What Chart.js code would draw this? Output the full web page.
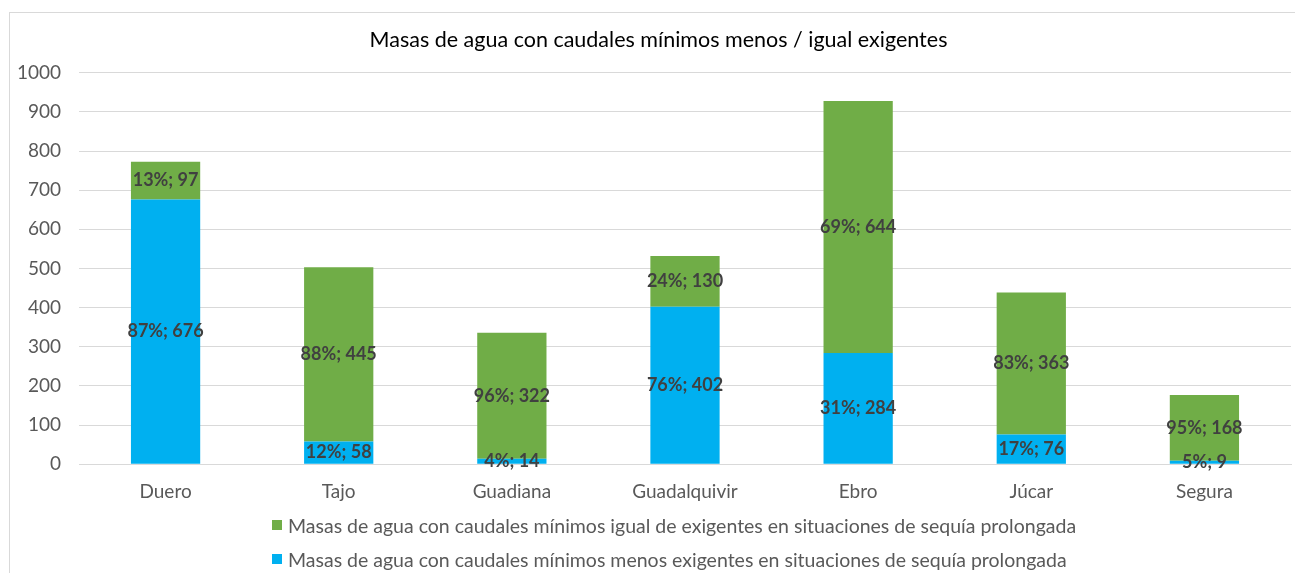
<!DOCTYPE html>
<html>
<head>
<meta charset="utf-8">
<script src="https://cdn.jsdelivr.net/npm/chart.js@4.4.1/dist/chart.umd.min.js"></script>
<style>
  html, body { margin: 0; padding: 0; background: #fff; }
  #wrap { position: relative; width: 1295px; height: 573px; overflow: hidden; }
  #frame { position: absolute; left: 9px; top: 12px; width: 1400px; height: 700px; border: 1px solid #d9d9d9; box-sizing: border-box; }
  #c { position: absolute; left: 0; top: 0; }
  #legend { position: absolute; left: 272px; top: 508px; font-family: Lato, sans-serif; font-size: 19.5px; color: #595959; }
  .item { display: flex; align-items: center; height: 34px; }
  .sw { width: 10px; height: 10px; margin-right: 6px; }
</style>
</head>
<body>
<div id="wrap">
  <div id="frame"></div>
  <canvas id="c" width="1295" height="573"></canvas>
  <div id="legend"></div>
</div>
<script>
const categories = ['Duero', 'Tajo', 'Guadiana', 'Guadalquivir', 'Ebro', 'Júcar', 'Segura'];
const menosValues = [676, 58, 14, 402, 284, 76, 9];
const menosPct = [87, 12, 4, 76, 31, 17, 5];
const igualValues = [97, 445, 322, 130, 644, 363, 168];
const igualPct = [13, 88, 96, 24, 69, 83, 95];
const yTicks = [0, 100, 200, 300, 400, 500, 600, 700, 800, 900, 1000];
const titleText = 'Masas de agua con caudales mínimos menos / igual exigentes';
const labelMenos = 'Masas de agua con caudales mínimos menos exigentes en situaciones de sequía prolongada';
const labelIgual = 'Masas de agua con caudales mínimos igual de exigentes en situaciones de sequía prolongada';

const FONT = 'Lato, sans-serif';

const segLabels = {
  id: 'segLabels',
  afterDatasetsDraw(chart) {
    const ctx = chart.ctx;
    ctx.save();
    ctx.font = 'bold 18px ' + FONT;
    ctx.fillStyle = '#404040';
    ctx.textAlign = 'center';
    ctx.textBaseline = 'middle';
    chart.data.datasets.forEach((ds, di) => {
      const meta = chart.getDatasetMeta(di);
      meta.data.forEach((el, i) => {
        const p = el.getProps(['x', 'y', 'base'], true);
        const txt = ds.pct[i] + '%; ' + ds.data[i];
        ctx.fillText(txt, p.x, (p.y + p.base) / 2);
      });
    });
    ctx.restore();
  }
};

// Center the title over the framed chart (frame starts at x=9 and runs past the right edge)
const titleShift = {
  id: 'titleShift',
  afterLayout(chart) {
    const tb = chart.titleBlock;
    if (tb) {
      tb.left = 26;
      tb.right = chart.width - 4;
      tb.width = tb.right - tb.left;
    }
  }
};

const chart = new Chart(document.getElementById('c'), {
  type: 'bar',
  data: {
    labels: categories,
    datasets: [
      { label: labelMenos, data: menosValues, pct: menosPct, backgroundColor: '#00B0F0' },
      { label: labelIgual, data: igualValues, pct: igualPct, backgroundColor: '#70AD47' }
    ]
  },
  options: {
    responsive: false,
    animation: false,
    events: [],
    layout: { padding: { left: 0, right: 4, top: 0, bottom: 62 } },
    datasets: { bar: { categoryPercentage: 1, barPercentage: 0.4 } },
    plugins: {
      legend: { display: false },
      tooltip: { enabled: false },
      title: {
        display: true,
        text: titleText,
        color: '#000',
        font: { family: FONT, size: 21.5, weight: 'normal' },
        padding: { top: 27, bottom: 20 }
      }
    },
    scales: {
      x: {
        stacked: true,
        grid: { display: false },
        border: { display: true, color: '#d9d9d9' },
        ticks: { color: '#595959', font: { family: FONT, size: 19 }, padding: 8 }
      },
      y: {
        stacked: true,
        min: 0, max: 1000,
        afterBuildTicks(s) { s.ticks = yTicks.map(v => ({ value: v })); },
        grid: { color: '#d9d9d9', lineWidth: 1, drawTicks: false },
        border: { display: false },
        ticks: { color: '#595959', font: { family: FONT, size: 19 }, padding: 18, callback: v => String(v) },
        afterFit(s) { s.width = 79; }
      }
    }
  },
  plugins: [segLabels, titleShift]
});

const leg = document.getElementById('legend');
[...chart.data.datasets].reverse().forEach(ds => {
  const row = document.createElement('div');
  row.className = 'item';
  const sw = document.createElement('span');
  sw.className = 'sw';
  sw.style.background = ds.backgroundColor;
  const t = document.createElement('span');
  t.textContent = ds.label;
  row.appendChild(sw);
  row.appendChild(t);
  leg.appendChild(row);
});
</script>
</body>
</html>
